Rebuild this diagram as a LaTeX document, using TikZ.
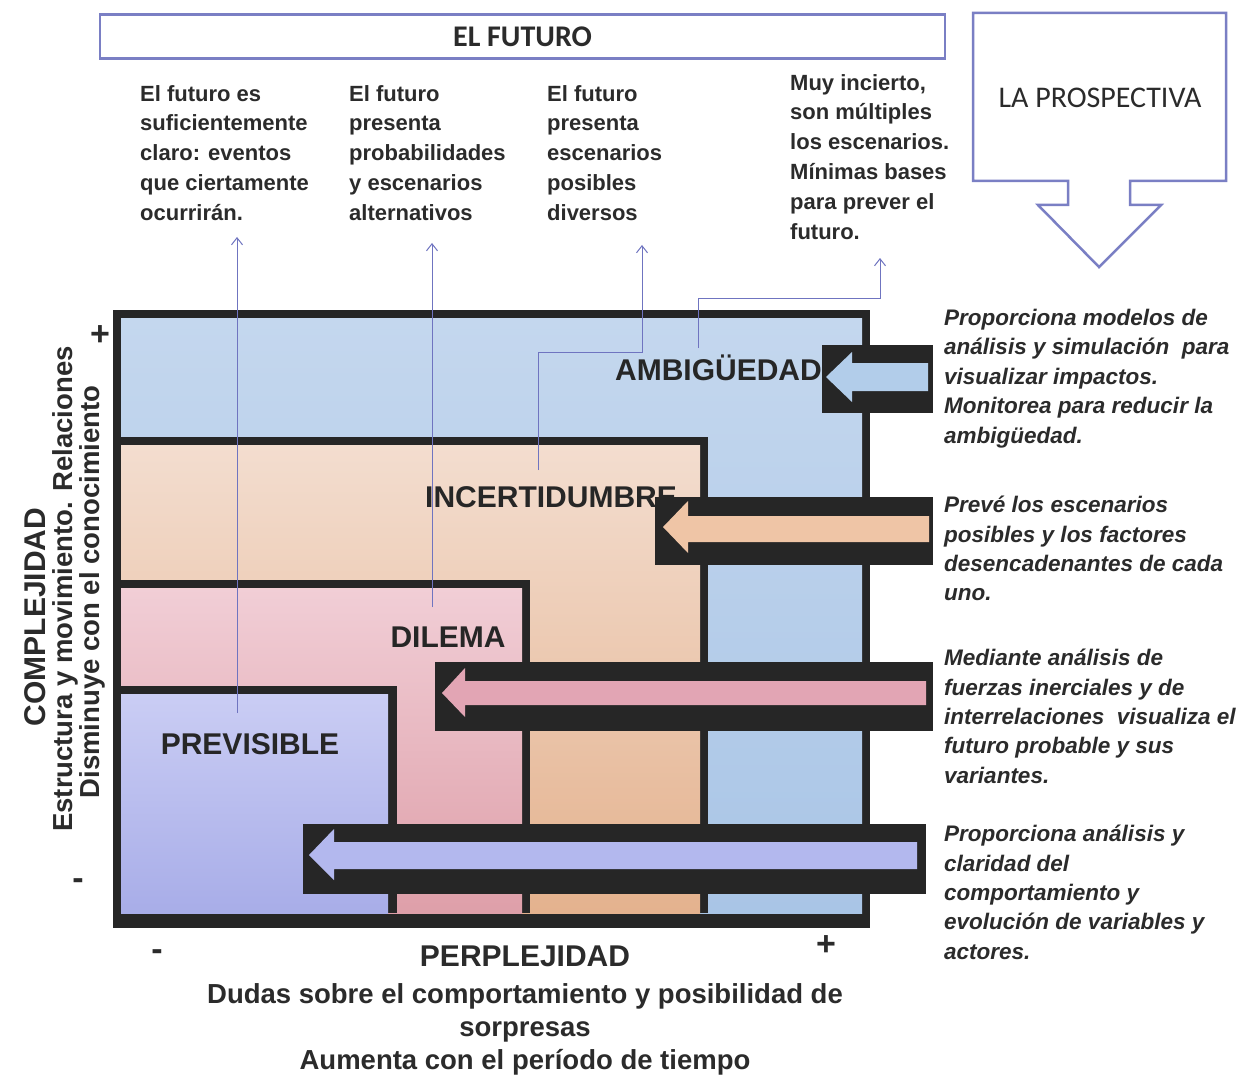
\documentclass[tikz,border=0pt]{standalone}
\usepackage{fontspec}
\setmainfont{Liberation Sans}
\newfontfamily\calib{Carlito}
\usetikzlibrary{arrows.meta}
\definecolor{frm}{HTML}{262626}
\definecolor{ink}{HTML}{2B2B2B}
\definecolor{lnk}{HTML}{6F74C0}
\definecolor{boxln}{HTML}{7A7FC4}
\definecolor{bluT}{HTML}{C4D7EE}
\definecolor{bluB}{HTML}{A9C5E6}
\definecolor{pchT}{HTML}{F3DDCF}
\definecolor{pchB}{HTML}{E4B28E}
\definecolor{pnkT}{HTML}{F1CED6}
\definecolor{pnkB}{HTML}{DE9FA9}
\definecolor{lavT}{HTML}{CACDF4}
\definecolor{lavB}{HTML}{A8ADE8}
\definecolor{arBlu}{HTML}{B2CDEA}
\definecolor{arPch}{HTML}{EFC5A6}
\definecolor{arPnk}{HTML}{E2A5B4}
\definecolor{arLav}{HTML}{B3B8EE}
\tikzset{
  coltext/.style={anchor=north west, inner sep=0pt, align=left, text=ink,
    font=\fontsize{22}{29.8}\selectfont\bfseries},
  rtext/.style={anchor=north west, inner sep=0pt, align=left, text=ink,
    font=\fontsize{22.5}{29.4}\selectfont\bfseries\itshape},
  zonelabel/.style={inner sep=0pt, text=frm, font=\fontsize{30}{32}\selectfont\bfseries},
  axlabel/.style={inner sep=0pt, text=ink, font=\fontsize{27.5}{30}\selectfont\bfseries},
  conn/.style={draw=lnk, line width=1pt, -{Straight Barb[length=7pt,width=11pt]}},
  blackbox/.style={fill=frm},
}
\begin{document}
\begin{tikzpicture}[x=1pt,y=-1pt]
\useasboundingbox[fill=white] (0,0) rectangle (1257,1075);

% ---- main zones ----
\fill[frm] (113,310) rectangle (870,928);
\fill[top color=bluT, bottom color=bluB] (121,318) rectangle (862,913);
\fill[frm] (121,437) rectangle (708,913);
\fill[top color=pchT, bottom color=pchB] (121,445) rectangle (700,913);
\fill[frm] (121,580) rectangle (530,913);
\fill[top color=pnkT, bottom color=pnkB] (121,588) rectangle (522,913);
\fill[frm] (121,686) rectangle (397,913);
\fill[top color=lavT, bottom color=lavB] (121,694) rectangle (388,913);

% ---- zone labels ----
\node[zonelabel, anchor=east] (amb) at (822,368) {AMBIGÜEDAD};
\node[zonelabel, anchor=west] (inc) at (425,497) {INCERTIDUMBRE};
\node[zonelabel] (dil) at (448,637) {DILEMA};
\node[zonelabel] (pre) at (250,744) {PREVISIBLE};

% ---- black bars with arrows ----
\fill[blackbox] (822,345) rectangle (933,413);
\fill[arBlu] (826,377) -- (852,352) -- (852,363) -- (928,363) -- (928,391) -- (852,391) -- (852,402) -- cycle;

\fill[blackbox] (655,497) rectangle (933,565);
\fill[arPch] (663,527) -- (688,501) -- (688,516) -- (929,516) -- (929,542) -- (688,542) -- (688,553) -- cycle;

\fill[blackbox] (435,662) rectangle (933,731);
\fill[arPnk] (442,693) -- (465,668) -- (465,681) -- (926,681) -- (926,705) -- (465,705) -- (465,717) -- cycle;

\fill[blackbox] (303,824) rectangle (926,894);
\fill[arLav] (309,855) -- (334,829) -- (334,842) -- (917,842) -- (917,869) -- (334,869) -- (334,880) -- cycle;

% ---- top boxes ----
\node[draw=boxln, line width=2.5pt, minimum width=845pt, minimum height=44pt, inner sep=0pt,
      text=ink, font=\calib\bfseries\fontsize{30}{32}\selectfont] (futuro) at (522.5,36.5) {EL FUTURO};
\draw[boxln, line width=2.5pt, line join=miter]
  (973,13) -- (1226,13) -- (1226,181) -- (1130,181) -- (1130,205) -- (1161,205)
  -- (1099,267) -- (1038,205) -- (1068,205) -- (1068,181) -- (973,181) -- cycle;
\node[inner sep=0pt, text=ink, font=\calib\fontsize{30}{32}\selectfont] (prosp) at (1100,98) {LA PROSPECTIVA};

% ---- column texts ----
\node[coltext] (c1) at (140,85) {El futuro es\\suficientemente\\claro: eventos\\que ciertamente\\ocurrirán.};
\node[coltext] (c2) at (349,85) {El futuro\\presenta\\probabilidades\\y escenarios\\alternativos};
\node[coltext] (c3) at (547,85) {El futuro\\presenta\\escenarios\\posibles\\diversos};
\node[coltext] (c4) at (790,74) {Muy incierto,\\son múltiples\\los escenarios.\\Mínimas bases\\para prever el\\futuro.};

% ---- connectors ----
\coordinate (a1s) at (237,713); \coordinate (a1e) at (237,237);
\coordinate (a2s) at (432,607); \coordinate (a2e) at (432,243);
\coordinate (a3s) at (538,470); \coordinate (a3e) at (642,245);
\coordinate (a4s) at (698,348); \coordinate (a4e) at (880,258);
\draw[conn] (a1s) -- (a1e);
\draw[conn] (a2s) -- (a2e);
\draw[conn] (a3s) |- (a3e |- 0,352) -- (a3e);
\draw[conn] (a4s) |- (a4e |- 0,298) -- (a4e);

% ---- right texts ----
\node[rtext] (r1) at (944,309) {Proporciona modelos de\\análisis y simulación \ para\\visualizar impactos.\\Monitorea para reducir la\\ambigüedad.};
\node[rtext] (r2) at (944,496) {Prevé los escenarios\\posibles y los factores\\desencadenantes de cada\\uno.};
\node[rtext] (r3) at (944,649) {Mediante análisis de\\fuerzas inerciales y de\\interrelaciones \ visualiza el\\futuro probable y sus\\variantes.};
\node[rtext] (r4) at (944,825) {Proporciona análisis y\\claridad del\\comportamiento y\\evolución de variables y\\actores.};

% ---- axes labels ----
\node[axlabel, font=\fontsize{30}{32}\selectfont\bfseries, rotate=90] (cmp) at (35,617) {COMPLEJIDAD};
\node[axlabel, rotate=90] (est) at (65,589) {Estructura y movimiento. Relaciones};
\node[axlabel, rotate=90] (dis) at (92,592) {Disminuye con el conocimiento};
\node[axlabel, font=\fontsize{34}{34}\selectfont\bfseries] (yplus) at (100,336) {+};
\node[axlabel, font=\fontsize{34}{34}\selectfont\bfseries] (yminus) at (78,884) {-};

\node[axlabel, anchor=base, font=\fontsize{30}{32}\selectfont\bfseries] (perp) at (525,966) {PERPLEJIDAD};
\node[axlabel, anchor=base] (dud) at (525,1003) {Dudas sobre el comportamiento y posibilidad de};
\node[axlabel, anchor=base] (sor) at (525,1036) {sorpresas};
\node[axlabel, anchor=base] (aum) at (525,1069) {Aumenta con el período de tiempo};
\node[axlabel, font=\fontsize{34}{34}\selectfont\bfseries] (xminus) at (157,955) {-};
\node[axlabel, font=\fontsize{34}{34}\selectfont\bfseries] (xplus) at (826,946) {+};
\end{tikzpicture}
\end{document}
